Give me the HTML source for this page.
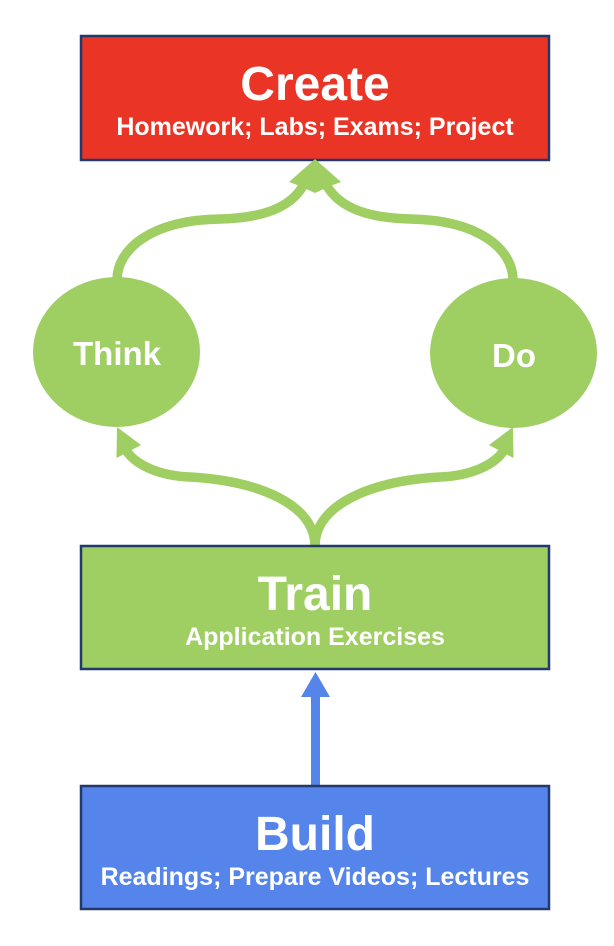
<!DOCTYPE html>
<html>
<head>
<meta charset="utf-8">
<style>
  html, body { margin: 0; padding: 0; background: #ffffff; }
  svg { display: block; }
  text { font-family: "Liberation Sans", Arial, sans-serif; font-weight: bold; fill: #ffffff; }
</style>
</head>
<body>
<svg width="614" height="946" viewBox="0 0 614 946" xmlns="http://www.w3.org/2000/svg">
  <!-- Create box -->
  <rect x="81" y="36" width="468" height="124" fill="#e93426" stroke="#22396b" stroke-width="2.5"/>
  <text x="315" y="100" font-size="48" text-anchor="middle">Create</text>
  <text x="315" y="135" font-size="25" text-anchor="middle">Homework; Labs; Exams; Project</text>

  <!-- Top curves -->
  <g fill="none" stroke="#9fce63" stroke-width="9.5">
    <path d="M117,280 C117,250 150,220 220,219 C262,218 290,208 303,186"/>
    <path d="M513,280 C513,250 480,220 410,219 C368,218 340,208 327,186"/>
  </g>
  <polygon points="315,159 341,182 330,186 315,193 300,186 289,182" fill="#9fce63"/>

  <!-- Circles -->
  <ellipse cx="116.5" cy="352" rx="83.5" ry="75" fill="#9fce63"/>
  <ellipse cx="513.5" cy="353" rx="83.5" ry="75" fill="#9fce63"/>
  <text x="117" y="365" font-size="33" text-anchor="middle">Think</text>
  <text x="514" y="367" font-size="33" text-anchor="middle">Do</text>

  <!-- Bottom curves -->
  <g fill="none" stroke="#9fce63" stroke-width="9.5">
    <path d="M315,546 C315,505 260,481 190,477 C160,476 135,465 126,450"/>
    <path d="M315,546 C315,505 370,481 440,477 C470,476 495,465 504,450"/>
  </g>
  <polygon points="117,427 116.5,458 141,445" fill="#9fce63"/>
  <polygon points="513,427 513.5,458 489,445" fill="#9fce63"/>

  <!-- Train box -->
  <rect x="81" y="546" width="468" height="123" fill="#9fce63" stroke="#22396b" stroke-width="2.5"/>
  <text x="315" y="610" font-size="48" text-anchor="middle">Train</text>
  <text x="315" y="645" font-size="25" text-anchor="middle">Application Exercises</text>

  <!-- Blue arrow -->
  <rect x="311" y="695" width="9" height="91" fill="#5585eb"/>
  <polygon points="315.5,672 301,697 330,697" fill="#5585eb"/>

  <!-- Build box -->
  <rect x="81" y="786" width="468" height="123" fill="#5585eb" stroke="#22396b" stroke-width="2.5"/>
  <text x="315" y="850" font-size="48" text-anchor="middle">Build</text>
  <text x="315" y="885" font-size="25" text-anchor="middle">Readings; Prepare Videos; Lectures</text>
</svg>
</body>
</html>
